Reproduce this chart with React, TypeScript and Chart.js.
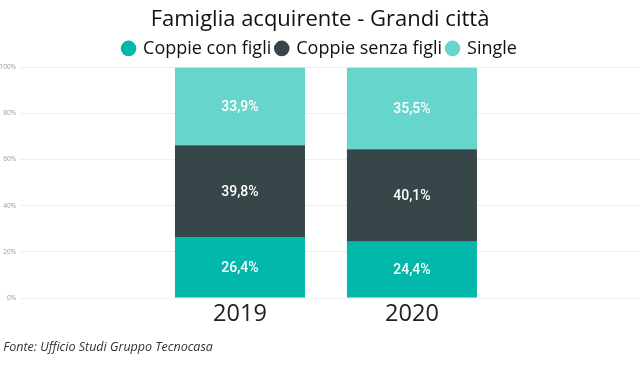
import React, { useEffect, useRef } from "react";
import { Chart, registerables } from "chart.js";

Chart.register(...registerables);

const years = ["2019", "2020"];
const seriesNames = ["Coppie con figli", "Coppie senza figli", "Single"];
const coppieConFigli = [26.4, 24.4];
const coppieSenzaFigli = [39.8, 40.1];
const single = [33.9, 35.5];
const yTicks = [0, 20, 40, 60, 80, 100];
const colors = ["#01B8AA", "#374649", "#66D5CB"];

const valueLabels = {
  id: "valueLabels",
  afterDatasetsDraw(chart: any) {
    const ctx = chart.ctx;
    ctx.save();
    ctx.fillStyle = "#ffffff";
    ctx.font = "500 14px Roboto";
    ctx.textAlign = "center";
    ctx.textBaseline = "middle";
    chart.data.datasets.forEach((ds: any, di: number) => {
      const meta = chart.getDatasetMeta(di);
      meta.data.forEach((el: any, i: number) => {
        const v = ds.data[i].y;
        const y = (el.y + el.base) / 2 + 1;
        ctx.fillText(v.toFixed(1).replace(".", ",") + "%", el.x, y);
      });
    });
    ctx.restore();
  },
};

export default function App() {
  const ref = useRef<HTMLCanvasElement>(null);
  useEffect(() => {
    const seriesValues = [coppieConFigli, coppieSenzaFigli, single];
    const chart = new Chart(ref.current!, {
      type: "bar",
      data: {
        datasets: seriesNames.map((name, si) => ({
          label: name,
          data: years.map((_, i) => ({ x: i, y: seriesValues[si][i] })),
          backgroundColor: colors[si],
          borderWidth: 0,
          categoryPercentage: 1,
          barPercentage: 0.756,
        })),
      },
      options: {
        responsive: false,
        animation: false,
        layout: { padding: { left: 0, right: 2, top: 0, bottom: 11 } },
        plugins: {
          title: {
            display: true,
            text: "Famiglia acquirente - Grandi città",
            font: { family: "'Open Sans'", size: 22, weight: "normal" },
            color: "#111",
            padding: { top: 7, bottom: 1 },
          },
          subtitle: {
            display: true,
            position: "bottom",
            align: "start",
            text: " Fonte: Ufficio Studi Gruppo Tecnocasa",
            font: { family: "'Open Sans'", size: 12.5, style: "italic" },
            color: "#333",
            padding: { top: 16, bottom: 0 },
          },
          legend: {
            display: true,
            labels: {
              usePointStyle: true,
              pointStyle: "circle",
              boxWidth: 11,
              boxHeight: 11,
              padding: 5,
              font: { family: "'Open Sans'", size: 18 },
              color: "#111",
            },
          },
          tooltip: { enabled: false },
        },
        scales: {
          x: {
            type: "linear",
            stacked: true,
            offset: false,
            min: -1.279,
            max: 2.326,
            grid: { display: false, offset: false },
            border: { display: false },
            afterBuildTicks: (scale: any) => {
              scale.ticks = years.map((_, i) => ({ value: i }));
            },
            afterFit: (scale: any) => {
              scale.height = 26;
            },
            ticks: {
              callback: (v: any) => years[v] ?? "",
              font: { family: "'Open Sans'", size: 23.5 },
              color: "#222",
              padding: -6,
              maxRotation: 0,
            },
          },
          y: {
            stacked: true,
            min: 0,
            max: 100,
            afterBuildTicks: (scale: any) => {
              scale.ticks = yTicks.map((v) => ({ value: v }));
            },
            afterFit: (scale: any) => {
              scale.width = 20;
            },
            grid: { color: "#eeeeee", drawTicks: false },
            border: { display: false },
            ticks: {
              callback: (v: any) => v + "%",
              font: { family: "'Open Sans'", size: 6.5 },
              color: "#999",
              padding: 4,
            },
          },
        },
      },
      plugins: [valueLabels],
    } as any);
    return () => chart.destroy();
  }, []);
  return (
    <div style={{ position: "absolute", left: 0, top: 0, width: 642, height: 366, background: "#fff" }}>
      <canvas ref={ref} width={642} height={366} />
    </div>
  );
}
